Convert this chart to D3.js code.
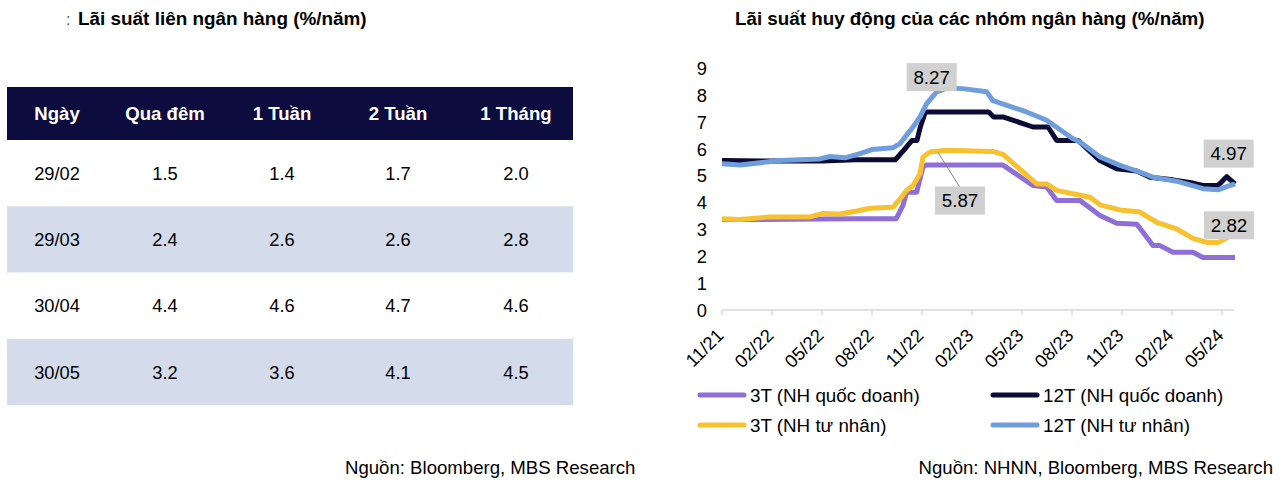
<!DOCTYPE html>
<html><head><meta charset="utf-8">
<script src="https://cdn.jsdelivr.net/npm/d3@7"></script>
<style>
body{margin:0;background:#fff;}
svg{display:block;font-family:"Liberation Sans",Arial,Helvetica,sans-serif;}
</style>
</head><body>
<svg id="c" width="1280" height="480"></svg>
<script>
// ---------- DATA ----------
const leftTitle = "Lãi suất liên ngân hàng (%/năm)";
const rightTitle = "Lãi suất huy động của các nhóm ngân hàng (%/năm)";
const leftSource = "Nguồn: Bloomberg, MBS Research";
const rightSource = "Nguồn: NHNN, Bloomberg, MBS Research";

const tableHeader = ["Ngày", "Qua đêm", "1 Tuần", "2 Tuần", "1 Tháng"];
const tableDates = ["29/02", "29/03", "30/04", "30/05"];
const overnight = ["1.5", "2.4", "4.4", "3.2"];
const week1 = ["1.4", "2.6", "4.6", "3.6"];
const week2 = ["1.7", "2.6", "4.7", "4.1"];
const month1 = ["2.0", "2.8", "4.6", "4.5"];

// x in months since 11/2021
const tickMonths = [0, 3, 6, 9, 12, 15, 18, 21, 24, 27, 30];
const tickLabels = ["11/21", "02/22", "05/22", "08/22", "11/22", "02/23", "05/23", "08/23", "11/23", "02/24", "05/24"];
const yTicks = [0, 1, 2, 3, 4, 5, 6, 7, 8, 9];

const seriesNames = ["3T (NH quốc doanh)", "12T (NH quốc doanh)", "3T (NH tư nhân)", "12T (NH tư nhân)"];

const gov3M = [[0,3.37],[4,3.38],[8,3.4],[10.45,3.4],[10.86,3.9],[11.08,4.39],[11.68,4.39],[12.06,5.33],[12.24,5.4],
  [16.86,5.4],[18.66,4.64],[19.48,4.58],[20.08,4.08],[21.48,4.08],[22.68,3.52],[23.68,3.23],[24.88,3.2],[25.18,2.96],
  [25.86,2.4],[26.28,2.4],[27.06,2.15],[28.26,2.15],[28.86,1.96],[30.78,1.96]];
const gov12M = [[0,5.57],[3,5.55],[6,5.55],[8,5.6],[10.4,5.6],[10.9,5.95],[11.4,6.32],[11.7,6.32],[11.9,6.82],[12.2,7.38],
  [16.0,7.38],[16.3,7.19],[16.9,7.19],[18.66,6.82],[19.56,6.82],[20.08,6.32],[21.36,6.32],[22.68,5.57],[23.68,5.26],
  [24.88,5.18],[25.68,4.95],[27.06,4.85],[28.26,4.73],[28.86,4.64],[29.76,4.64],[30.28,4.97],[30.78,4.7]];
const pri3M = [[0,3.4],[1.08,3.37],[2.88,3.47],[5.28,3.47],[6.06,3.6],[7.08,3.58],[8.1,3.69],[8.88,3.79],[10.26,3.83],
  [10.68,4.14],[11.08,4.46],[11.46,4.64],[11.88,5.08],[12.06,5.7],[12.48,5.89],[13.48,5.95],[16.26,5.91],[16.86,5.8],
  [18.88,4.7],[19.48,4.7],[20.08,4.46],[22.08,4.2],[22.68,3.92],[23.88,3.73],[25.08,3.65],[26.08,3.27],[27.28,3.02],
  [28.26,2.67],[29.08,2.52],[29.76,2.52],[30.18,2.65],[30.6,2.82]];
const pri12M = [[0,5.45],[1.08,5.4],[3.48,5.57],[5.88,5.63],[6.48,5.72],[7.38,5.67],[8.28,5.83],[9.0,5.98],[10.26,6.05],
  [10.68,6.2],[11.46,6.82],[11.88,7.2],[12.28,7.69],[12.88,8.13],[13.48,8.27],[14.46,8.25],[15.88,8.13],[16.26,7.8],
  [18.28,7.38],[19.48,7.07],[21.06,6.38],[21.48,6.26],[22.68,5.7],[23.88,5.39],[24.88,5.18],[25.86,4.95],[27.28,4.8],
  [28.86,4.52],[29.76,4.48],[30.28,4.6],[30.78,4.7]];

const callouts = [
  {text: "8.27", m: 13.48, v: 8.27, dx: -15, dy: -11, leader: false},
  {text: "5.87", m: 12.96, v: 5.87, dx: 22, dy: 48, leader: true},
  {text: "4.97", m: 30.28, v: 4.97, dx: 2, dy: -23, leader: false},
  {text: "2.82", m: 30.6, v: 2.82, dx: -3, dy: -9, leader: false}
];

// ---------- RENDER ----------
const svg = d3.select("#c");
svg.append("rect").attr("width", 1280).attr("height", 480).attr("fill", "#fff");

// Left: table
svg.append("text").attr("x", 66).attr("y", 25).attr("font-size", 16).attr("fill", "#555").text(":");
svg.append("text").attr("x", 78).attr("y", 25).attr("font-size", 18.9).attr("font-weight", "bold")
  .attr("fill", "#000").text(leftTitle);

const colX = [57, 165, 282, 398, 516];
const tableLeft = 7, tableRight = 573;
const headerTop = 87, headerH = 53, rowH = 66.3;
svg.append("rect").attr("x", tableLeft).attr("y", headerTop).attr("width", tableRight - tableLeft)
  .attr("height", headerH).attr("fill", "#0c0c3e");
svg.selectAll(".hdr").data(tableHeader).join("text")
  .attr("x", (d, i) => colX[i]).attr("y", headerTop + headerH / 2)
  .attr("text-anchor", "middle").attr("dominant-baseline", "central")
  .attr("font-size", 18.6).attr("font-weight", "bold").attr("fill", "#fff").text(d => d);

const rows = tableDates.map((d, i) => [d, overnight[i], week1[i], week2[i], month1[i]]);
const rowG = svg.selectAll(".row").data(rows).join("g")
  .attr("transform", (d, i) => `translate(0,${headerTop + headerH + i * rowH})`);
rowG.append("rect").attr("x", tableLeft).attr("width", tableRight - tableLeft).attr("height", rowH)
  .attr("fill", (d, i) => i % 2 ? "#d4dcec" : "#fff");
rowG.selectAll("text").data(d => d).join("text")
  .attr("x", (d, i) => colX[i]).attr("y", rowH / 2)
  .attr("text-anchor", "middle").attr("dominant-baseline", "central")
  .attr("font-size", 18.3).attr("fill", "#000").text(d => d);

svg.append("text").attr("x", 345).attr("y", 474).attr("font-size", 18.6).attr("fill", "#000").text(leftSource);

// Right: chart
svg.append("text").attr("x", 735).attr("y", 25).attr("font-size", 18.8).attr("font-weight", "bold")
  .attr("fill", "#000").text(rightTitle);

const x = d3.scaleLinear().domain([0, 30.72]).range([722, 1234]);
const y = d3.scaleLinear().domain([0, 9]).range([310, 68.5]);

// y labels
svg.selectAll(".yl").data(yTicks).join("text")
  .attr("x", 707).attr("y", d => y(d)).attr("text-anchor", "end").attr("dominant-baseline", "central")
  .attr("font-size", 18.3).attr("fill", "#000").text(d => d);

// x axis
svg.append("line").attr("x1", x(0)).attr("x2", x(30.72)).attr("y1", y(0)).attr("y2", y(0))
  .attr("stroke", "#d9d9d9").attr("stroke-width", 1.5);
svg.selectAll(".xt").data(tickMonths).join("line")
  .attr("x1", d => x(d)).attr("x2", d => x(d)).attr("y1", y(0)).attr("y2", y(0) + 5)
  .attr("stroke", "#d9d9d9").attr("stroke-width", 1.5);
svg.selectAll(".xl").data(tickLabels).join("text")
  .attr("transform", (d, i) => `translate(${x(tickMonths[i]) - 2},${y(0) + 22}) rotate(-45)`)
  .attr("text-anchor", "end").attr("dominant-baseline", "central")
  .attr("font-size", 18.3).attr("fill", "#000").text(d => d);

const line = d3.line().x(d => x(d[0])).y(d => y(d[1]));
const series = [
  {data: gov3M, color: "#8e6fd8"},
  {data: gov12M, color: "#0b0b36"},
  {data: pri3M, color: "#f8c12e"},
  {data: pri12M, color: "#709edd"}
];
svg.selectAll(".ser").data(series).join("path")
  .attr("d", d => line(d.data)).attr("fill", "none").attr("stroke", d => d.color)
  .attr("stroke-width", 5).attr("stroke-linejoin", "round");

// callouts
const bw = 50, bh = 28;
callouts.forEach(c => {
  const px = x(c.m), py = y(c.v);
  const cx = px + c.dx, cy = py + c.dy;
  if (c.leader) {
    svg.append("line").attr("x1", px).attr("y1", py).attr("x2", cx).attr("y2", cy - bh / 2 + 1)
      .attr("stroke", "#808080").attr("stroke-width", 1);
  }
  svg.append("rect").attr("x", cx - bw / 2).attr("y", cy - bh / 2).attr("width", bw).attr("height", bh)
    .attr("fill", "#d0d0d0");
  svg.append("text").attr("x", cx).attr("y", cy).attr("text-anchor", "middle").attr("dominant-baseline", "central")
    .attr("font-size", 18.8).attr("fill", "#000").text(c.text);
});

// legend
const legendPos = [[700, 395], [993, 395], [700, 425], [993, 425]];
const lg = svg.selectAll(".lg").data(seriesNames).join("g")
  .attr("transform", (d, i) => `translate(${legendPos[i][0]},${legendPos[i][1]})`);
lg.append("line").attr("x1", 0).attr("x2", 44).attr("y1", 0).attr("y2", 0)
  .attr("stroke", (d, i) => series[i].color).attr("stroke-width", 5).attr("stroke-linecap", "round");
lg.append("text").attr("x", 50).attr("y", 0).attr("dominant-baseline", "central")
  .attr("font-size", 18.8).attr("fill", "#000").text(d => d);

svg.append("text").attr("x", 1273).attr("y", 474).attr("text-anchor", "end").attr("font-size", 18.6)
  .attr("fill", "#000").text(rightSource);
</script>
</body></html>
